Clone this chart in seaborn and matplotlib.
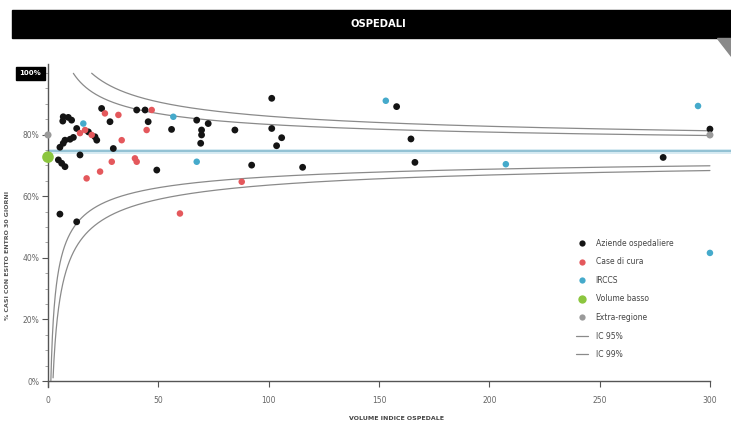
import numpy as np
import pandas as pd
import matplotlib
matplotlib.use("Agg")
import matplotlib.pyplot as plt
import matplotlib.transforms as mtransforms
from matplotlib.patches import Rectangle, Polygon
from matplotlib.lines import Line2D
import seaborn as sns

# ---- data: hospital volume vs % of cases -------------------------------
ao_volume = [6.9, 6.7, 9.2, 10.7, 13.0, 18.3, 21.3, 22.1, 7.7, 10.0, 11.5, 6.9,
             5.4, 14.5, 4.7, 6.2, 7.7, 24.3, 28.1, 29.6, 40.2, 44.0, 45.4, 49.3,
             67.4, 72.6, 56.0, 69.6, 69.6, 69.2, 84.7, 101.4, 101.4, 105.9, 103.6,
             92.3, 115.4, 158.0, 164.5, 166.3, 278.8, 300.0, 5.4, 13.0]
ao_pct = [85.8, 84.4, 85.6, 84.7, 82.0, 80.9, 79.3, 78.2, 78.2, 78.5, 79.1, 77.2,
          75.9, 73.4, 71.8, 70.7, 69.6, 88.5, 84.2, 75.5, 88.0, 88.0, 84.2, 68.5,
          84.7, 83.6, 81.7, 81.5, 79.9, 77.2, 81.5, 91.8, 82.0, 79.0, 76.4,
          70.1, 69.4, 89.1, 78.6, 71.0, 72.6, 81.8, 54.2, 51.7]

cdc_volume = [16.8, 19.8, 25.8, 31.9, 33.4, 28.9, 23.6, 17.5, 47.0, 44.7, 39.4,
              40.2, 87.8, 59.8, 14.5]
cdc_pct = [81.5, 79.9, 86.9, 86.4, 78.2, 71.2, 68.0, 65.8, 88.0, 81.5, 72.3,
           71.2, 64.7, 54.4, 80.5]

irccs_volume = [16.0, 56.8, 67.4, 153.1, 207.5, 294.6, 300.0]
irccs_pct = [83.6, 85.8, 71.2, 91.0, 70.4, 89.3, 41.6]

low_volume = [0.0]
low_pct = [72.7]

extra_volume = [0.0, 300.0]
extra_pct = [79.9, 79.9]

mean_pct = 74.8
ci_levels = {"IC 95%": 1.96, "IC 99%": 2.576}

groups = ["Aziende ospedaliere", "Case di cura", "IRCCS", "Volume basso", "Extra-regione"]
colors = {"Aziende ospedaliere": "#141414", "Case di cura": "#e4585c",
          "IRCCS": "#45aacb", "Volume basso": "#8cc63f", "Extra-regione": "#9a9a9a"}
sizes = {"Aziende ospedaliere": 24, "Case di cura": 22, "IRCCS": 22,
         "Volume basso": 70, "Extra-regione": 26}

df = pd.concat([
    pd.DataFrame({"volume": ao_volume, "pct": ao_pct, "tipo": groups[0]}),
    pd.DataFrame({"volume": cdc_volume, "pct": cdc_pct, "tipo": groups[1]}),
    pd.DataFrame({"volume": irccs_volume, "pct": irccs_pct, "tipo": groups[2]}),
    pd.DataFrame({"volume": low_volume, "pct": low_pct, "tipo": groups[3]}),
    pd.DataFrame({"volume": extra_volume, "pct": extra_pct, "tipo": groups[4]}),
], ignore_index=True)

x_ticks = [0, 50, 100, 150, 200, 250, 300]
y_ticks = [0, 20, 40, 60, 80]
y_tick_labels = ["0%", "20%", "40%", "60%", "80%"]

# ---- figure -------------------------------------------------------------
sns.set_theme(style="white")
plt.rcParams["font.family"] = ["DejaVu Sans"]

W, H = 731, 426
fig = plt.figure(figsize=(W / 100, H / 100), dpi=100)
fig.patch.set_facecolor("white")

# axes: x 0..310 -> px 48..732, y -2..103 -> px 387..64
ax = fig.add_axes([48 / W, (H - 387.2) / H, 684 / W, 323.4 / H])
ax.set_xlim(0, 310)
ax.set_ylim(-2, 103)

# funnel limits around the mean
n = np.linspace(0.3, 300, 3000)
p = mean_pct / 100
se = np.sqrt(p * (1 - p) / n) * 100
for label, z in ci_levels.items():
    up = mean_pct + z * se
    lo = mean_pct - z * se
    up = np.where(up > 100, np.nan, up)
    lo = np.where(lo < 0, np.nan, lo)
    ax.plot(n, up, color="#8a8a8a", lw=0.9, zorder=2)
    ax.plot(n, lo, color="#8a8a8a", lw=0.9, zorder=2)

# mean line
ax.axhline(mean_pct, color="#d6eaf2", lw=3.5, zorder=1)
ax.axhline(mean_pct, color="#7fb7cc", lw=1.1, zorder=1)

# points
for g in groups:
    sub = df[df["tipo"] == g]
    sns.scatterplot(data=sub, x="volume", y="pct", ax=ax, color=colors[g],
                    s=sizes[g], edgecolor="none", legend=False, zorder=4,
                    clip_on=False)

# axes styling
for s in ["top", "right"]:
    ax.spines[s].set_visible(False)
ax.spines["bottom"].set_position(("data", 0))
ax.spines["bottom"].set_bounds(0, 300)
for s in ["left", "bottom"]:
    ax.spines[s].set_color("#555555")
    ax.spines[s].set_linewidth(1.0)

ax.set_xticks(x_ticks)
ax.set_xticklabels([str(t) for t in x_ticks])
ax.set_yticks(y_ticks)
ax.set_yticklabels(y_tick_labels)
ax.set_yticks(np.arange(0, 101, 5), minor=True)
ax.tick_params(axis="both", which="major", direction="out", length=4, width=0.8,
               color="#555555", labelsize=5.5, labelcolor="#666666", pad=2)
ax.tick_params(axis="x", which="major", pad=7)
ax.tick_params(axis="y", which="minor", direction="out", length=2, width=0.6,
               color="#999999", left=True)
ax.tick_params(left=True, bottom=True)
ax.set_xlabel("")
ax.set_ylabel("")
ax.grid(False)

# "100%" label in a black box
trans = mtransforms.blended_transform_factory(ax.transAxes, ax.transData)
ax.text(-0.026, 100, "100%", transform=trans, ha="center", va="center",
        fontsize=5, color="white", fontweight="bold",
        bbox=dict(boxstyle="square,pad=0.5", fc="black", ec="black"),
        clip_on=False)

# legend
handles = [Line2D([], [], ls="none", marker="o", markersize=ms, color=colors[g],
                  markeredgecolor="none")
           for g, ms in zip(groups, [4.5, 4.5, 4.5, 6, 4.5])]
handles += [Line2D([], [], color="#8a8a8a", lw=0.9) for _ in ci_levels]
labels = groups + list(ci_levels.keys())
leg = ax.legend(handles, labels, loc="upper left",
                bbox_to_anchor=(572 / W, 1 - 235 / H), bbox_transform=fig.transFigure,
                frameon=False, fontsize=5.5, labelspacing=1.25, handlelength=1.6,
                handletextpad=1.0, borderpad=0)
for t in leg.get_texts():
    t.set_color("#444444")

# title bar
fig.add_artist(Rectangle((12 / W, (H - 38) / H), (W - 12) / W, 28 / H,
                         transform=fig.transFigure, color="black", zorder=0))
fig.add_artist(Polygon([(717 / W, (H - 38) / H), (1.0, (H - 38) / H), (1.0, (H - 56) / H)],
                       closed=True, transform=fig.transFigure, color="#8a8a8a"))
fig.text(378 / W, 1 - 24 / H, "OSPEDALI", ha="center", va="center", color="white",
         fontsize=8, fontweight="bold", fontstretch="condensed")

# axis titles
fig.text(8 / W, 1 - 255 / H, "% CASI CON ESITO ENTRO 30 GIORNI", rotation=90,
         ha="center", va="center", fontsize=4.5, color="#555555", fontweight="bold")
fig.text(396 / W, 1 - 418 / H, "VOLUME INDICE OSPEDALE", ha="center", va="center",
         fontsize=4.5, color="#444444", fontweight="bold")

fig.savefig("out.png", dpi=100)
